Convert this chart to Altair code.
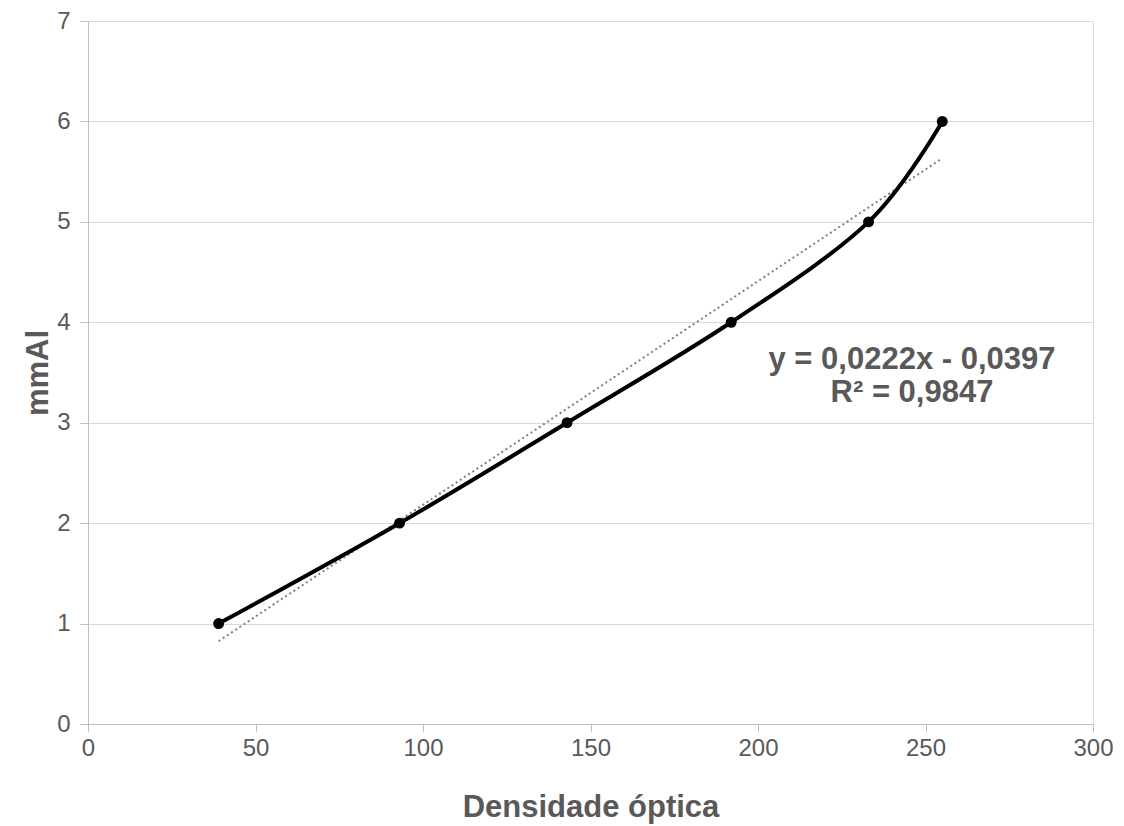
import altair as alt
import pandas as pd

densidade = [39, 93, 143, 192, 233, 255]
mmal = [1, 2, 3, 4, 5, 6]
eq_lines = ["y = 0,0222x - 0,0397", "R² = 0,9847"]

df = pd.DataFrame({"x": densidade, "y": mmal})
FONT = "Liberation Sans"
GREY = "#595959"

xs = alt.Scale(domain=[0, 300], nice=False)
ys = alt.Scale(domain=[0, 7], nice=False)

xax = alt.Axis(values=[0, 50, 100, 150, 200, 250, 300], grid=False, tickSize=8,
               tickColor="#bfbfbf", domainColor="#bfbfbf", labelFontSize=24,
               labelColor=GREY, labelFont=FONT, labelPadding=4, labelFlush=False,
               format="d",
               title="Densidade óptica", titleFont=FONT, titleFontSize=31,
               titleFontWeight="bold", titleColor=GREY, titlePadding=32)
yax = alt.Axis(values=[0, 1, 2, 3, 4, 5, 6, 7], grid=True, gridColor="#d9d9d9",
               tickSize=8, tickColor="#bfbfbf", domainColor="#bfbfbf",
               labelFontSize=24, labelColor=GREY, labelFont=FONT, labelPadding=10,
               labelFlush=False, format="d",
               title="mmAl", titleFont=FONT, titleFontSize=31,
               titleFontWeight="bold", titleColor=GREY, titlePadding=2)

base = alt.Chart(df)

trend = base.transform_regression("x", "y", extent=[39, 255]).mark_line(
    color="#7f7f7f", strokeWidth=2, strokeDash=[2, 3]
).encode(x=alt.X("x:Q", scale=xs, axis=xax), y=alt.Y("y:Q", scale=ys, axis=yax))

line = base.mark_line(color="black", strokeWidth=4, interpolate="cardinal").encode(
    x=alt.X("x:Q", scale=xs), y=alt.Y("y:Q", scale=ys))

pts = base.mark_circle(color="black", size=120, opacity=1).encode(
    x=alt.X("x:Q", scale=xs), y=alt.Y("y:Q", scale=ys))

txt1 = alt.Chart(pd.DataFrame({"t": [eq_lines[0]]})).mark_text(
    font=FONT, fontSize=31, fontWeight="bold", color=GREY, align="center", baseline="middle"
).encode(text="t:N", x=alt.value(824), y=alt.value(339))
txt2 = alt.Chart(pd.DataFrame({"t": [eq_lines[1]]})).mark_text(
    font=FONT, fontSize=31, fontWeight="bold", color=GREY, align="center", baseline="middle"
).encode(text="t:N", x=alt.value(824), y=alt.value(372))

chart = alt.layer(trend, line, pts, txt1, txt2).properties(
    width=1005, height=703,
    autosize=alt.AutoSizeParams(type="none"),
    padding={"left": 80, "top": 13, "right": 20, "bottom": 100},
).configure_view(stroke=None).configure(background="white")

chart.save("out.html", embed_options={"renderer": "svg", "actions": False})
